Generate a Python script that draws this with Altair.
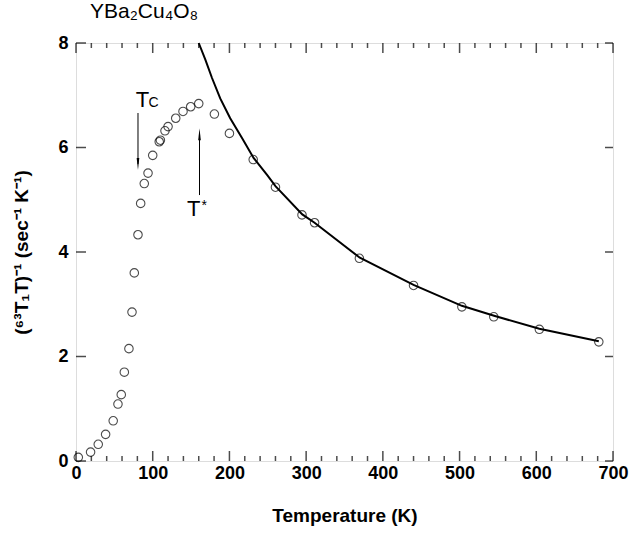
import altair as alt
import pandas as pd

# ---- data ----
temp_K = [3, 19, 29, 38.6, 48.5, 54.7, 59, 63, 69, 73, 76, 80.8, 84.3, 89, 93.9,
          100, 108.5, 110, 116, 120, 130, 139.5, 149.5, 160, 180.4, 200, 231, 260,
          294.6, 311, 369.4, 440, 503, 544.6, 604, 681.5]
inv_T1T = [0.07, 0.17, 0.32, 0.51, 0.77, 1.09, 1.27, 1.70, 2.15, 2.85, 3.60, 4.33,
           4.93, 5.31, 5.51, 5.85, 6.11, 6.14, 6.32, 6.40, 6.56, 6.69, 6.78, 6.84,
           6.64, 6.27, 5.77, 5.24, 4.71, 4.56, 3.88, 3.36, 2.95, 2.76, 2.52, 2.28]

fit_T = [160, 168.6, 177.3, 188, 201, 216.4, 231.5, 249.8, 260, 295, 311, 370,
         440, 503, 545, 604, 681.5]
fit_val = [8.0, 7.68, 7.33, 6.94, 6.56, 6.18, 5.80, 5.46, 5.26, 4.72, 4.56, 3.89,
           3.37, 2.97, 2.78, 2.53, 2.29]

x_major = [0, 100, 200, 300, 400, 500, 600, 700]
x_minor = [t for t in range(0, 701, 20) if t % 100 != 0]
y_major = [0, 2, 4, 6, 8]

FONT = "Liberation Sans"
W, H = 537, 418

sx = alt.Scale(domain=[0, 700], nice=False, zero=False)
sy = alt.Scale(domain=[0, 8], nice=False, zero=False)

pts = pd.DataFrame({"T": temp_K, "R": inv_T1T})
fit = pd.DataFrame({"T": fit_T, "R": fit_val})
xmaj = pd.DataFrame({"T": x_major})
xmin = pd.DataFrame({"T": x_minor})
ymaj = pd.DataFrame({"R": y_major})

x_axis = alt.Axis(values=x_major, title="Temperature (K)", ticks=False, domain=False,
                  grid=False, labelFont=FONT, labelFontSize=18, labelFontWeight="bold",
                  labelColor="black", labelPadding=3, labelFlush=False,
                  labelOverlap=False, titleFont=FONT, titleFontSize=19,
                  titleFontWeight="bold", titleColor="black", titlePadding=24)
y_axis = alt.Axis(values=y_major, title="(⁶³T₁T)⁻¹ (sec⁻¹ K⁻¹)", ticks=False,
                  domain=False, grid=False, labelFont=FONT, labelFontSize=18,
                  labelFontWeight="bold", labelColor="black", labelPadding=8,
                  labelFlush=False, labelOverlap=False,
                  titleFont=FONT, titleFontSize=19, titleFontWeight="bold",
                  titleColor="black", titlePadding=26)


def X(field="T:Q"):
    return alt.X(field, scale=sx, axis=x_axis)


def Y(field="R:Q"):
    return alt.Y(field, scale=sy, axis=y_axis)


points = alt.Chart(pts).mark_point(shape="circle", filled=False, size=72,
                                   color="black", strokeWidth=1.1).encode(x=X(), y=Y())

curve = alt.Chart(fit).mark_line(color="black", strokeWidth=2).encode(x=X(), y=Y())


def xticks(df, yval, length, offset):
    return alt.Chart(df).mark_tick(orient="vertical", size=length, thickness=1.5,
                                   color="black", yOffset=offset).encode(
        x=X(), y=alt.YDatum(yval, scale=sy, axis=y_axis))


def yticks(df, xval, length, offset):
    return alt.Chart(df).mark_tick(orient="horizontal", size=length, thickness=1.5,
                                   color="black", xOffset=offset).encode(
        y=Y(), x=alt.XDatum(xval, scale=sx, axis=x_axis))


ticks = [
    xticks(xmaj, 0, 10, -5), xticks(xmin, 0, 5, -2.5),
    xticks(xmaj, 8, 10, 5), xticks(xmin, 8, 5, 2.5),
    yticks(ymaj, 0, 10, 5), yticks(ymaj, 700, 8, -4),
]

# arrows
arrows = pd.DataFrame({"T": [80.8, 161], "R": [6.66, 6.255], "R2": [5.685, 5.09]})
arrow_lines = alt.Chart(arrows).mark_rule(color="black", strokeWidth=1).encode(
    x=X(), y=Y(), y2="R2:Q")

head_down = alt.Chart(pd.DataFrame({"T": [80.8], "R": [5.685]})).mark_point(
    shape="M-0.22,-1L0.22,-1L0,1Z", size=144, filled=True, color="black",
    opacity=1).encode(x=X(), y=Y())
head_up = alt.Chart(pd.DataFrame({"T": [161], "R": [6.255]})).mark_point(
    shape="M-0.22,1L0.22,1L0,-1Z", size=144, filled=True, color="black",
    opacity=1).encode(x=X(), y=Y())

big_lbl = pd.DataFrame({"T": [86.5, 153.6], "R": [6.78, 4.68], "txt": ["T", "T"]})
small_lbl = pd.DataFrame({"T": [101, 167], "R": [6.78, 4.80], "txt": ["C", "*"]})

big_text = alt.Chart(big_lbl).mark_text(font=FONT, fontSize=22, color="black",
                                        baseline="alphabetic", align="center").encode(
    x=X(), y=Y(), text="txt:N")
small_text = alt.Chart(small_lbl).mark_text(font=FONT, fontSize=14, color="black",
                                            baseline="alphabetic", align="center").encode(
    x=X(), y=Y(), text="txt:N")

chart = alt.layer(points, curve, *ticks, arrow_lines, head_down, head_up,
                  big_text, small_text).properties(
    width=W, height=H,
    title=alt.TitleParams("YBa₂Cu₄O₈", anchor="start", frame="group", fontSize=21,
                          fontWeight="normal", font=FONT, color="black", dx=14,
                          offset=12),
    autosize=alt.AutoSizeParams(type="none"),
    padding={"left": 76, "top": 43, "right": 27, "bottom": 72},
).configure_view(stroke="black", strokeWidth=1.8).configure(background="white")

chart.save("out.html", embed_options={"renderer": "svg", "actions": False})
